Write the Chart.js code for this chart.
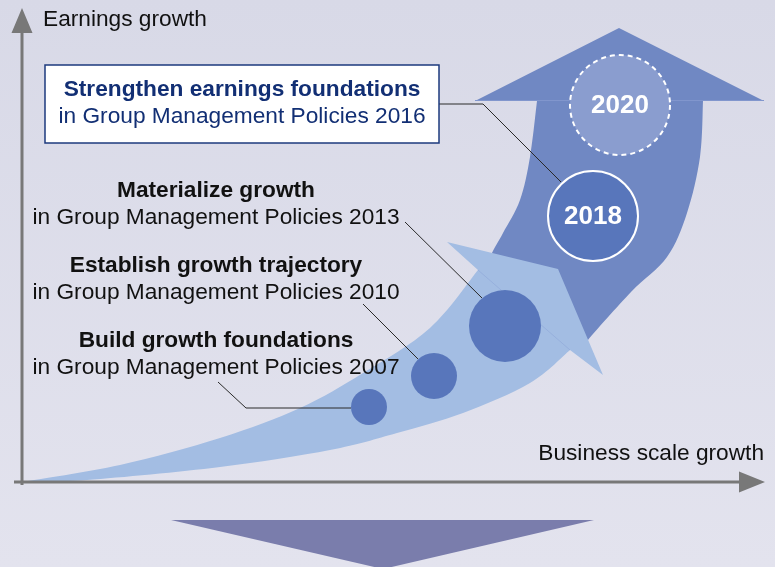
<!DOCTYPE html>
<html>
<head>
<meta charset="utf-8">
<script src="https://cdn.jsdelivr.net/npm/chart.js@4.4.1/dist/chart.umd.min.js"></script>
<style>
html, body { margin:0; padding:0; background:#dedfeb; }
#wrap { width:775px; height:567px; position:relative; }
</style>
</head>
<body>
<div id="wrap"><canvas id="grafico"></canvas></div>
<script>
// phases: x = business scale, y = earnings (origin at the axis corner)
var fases = ["2007", "2010", "2013", "2018", "2020"];
var faseX = [347, 412, 483, 571, 598];
var faseY = [75, 106, 156, 266, 377];
var faseR = [18, 23, 36, 45, 50];
var faseTexto = ["", "", "", "2018", "2020"];

// policy labels
var titulos = ["Build growth foundations", "Establish growth trajectory", "Materialize growth", "Strengthen earnings foundations"];
var subtitulos = ["in Group Management Policies 2007", "in Group Management Policies 2010", "in Group Management Policies 2013", "in Group Management Policies 2016"];

var eixoY = "Earnings growth";
var eixoX = "Business scale growth";

// geometry of the drawing (same units as the scales)
var tituloX = [194, 194, 194, 220];
var tituloY = [141, 216, 291, 392];
var guiaX = [[196, 224, 329], [341, 396], [383, 460], [417, 461, 539]];
var guiaY = [[100, 74, 74], [178, 123], [260, 184], [378, 378, 300]];
var caixa = [23, 417, 339, 417]; // x0, x1, y0, y1

var bandaTopoX = [0, 98, 198, 278, 341, 408, 456];
var bandaTopoY = [0, 17, 44, 74, 109, 154, 212];
var bandaBaseX = [0, 65, 198, 308, 375, 441, 508, 548];
var bandaBaseY = [0, 2, 15, 32, 49, 69, 99, 132];
var pontaX = [425, 536, 581];
var pontaY = [240, 213, 107];

var setaEsqX = [515, 508, 498, 481, 470, 464];
var setaEsqY = [381, 325, 282, 249, 229, 212];
var setaDirX = [681, 678, 665, 645, 609, 566, 562];
var setaDirY = [381, 325, 269, 225, 190, 142, 134];
var cabecaX = [453, 597, 742];
var cabecaY = [381, 454, 381];

var trianguloX = [149, 572, 361];
var trianguloY = [-38, -38, -87];

var fonte = '"Liberation Sans", Arial, sans-serif';

function px(chart, x, y) {
  return [chart.scales.x.getPixelForValue(x), chart.scales.y.getPixelForValue(y)];
}

function pontos(chart, xs, ys) {
  var r = [];
  for (var i = 0; i < xs.length; i++) r.push(px(chart, xs[i], ys[i]));
  return r;
}

// smooth curve through points (catmull-rom)
function curva(ctx, pts) {
  for (var i = 0; i < pts.length - 1; i++) {
    var p0 = pts[i - 1] || pts[i], p1 = pts[i], p2 = pts[i + 1], p3 = pts[i + 2] || pts[i + 1];
    ctx.bezierCurveTo(p1[0] + (p2[0] - p0[0]) / 6, p1[1] + (p2[1] - p0[1]) / 6,
                      p2[0] - (p3[0] - p1[0]) / 6, p2[1] - (p3[1] - p1[1]) / 6,
                      p2[0], p2[1]);
  }
}

var desenho = {
  id: 'desenho',
  beforeDraw: function(chart) {
    var ctx = chart.ctx;
    var g = ctx.createLinearGradient(0, 0, 0, chart.height);
    g.addColorStop(0, '#d8d9e7');
    g.addColorStop(1, '#e3e3ee');
    ctx.save();
    ctx.fillStyle = g;
    ctx.fillRect(0, 0, chart.width, chart.height);
    ctx.restore();
  },
  beforeDatasetsDraw: function(chart) {
    var ctx = chart.ctx, i, p;
    ctx.save();

    // bottom triangle
    p = pontos(chart, trianguloX, trianguloY);
    ctx.fillStyle = '#7a7dac';
    ctx.beginPath();
    ctx.moveTo(p[0][0], p[0][1]);
    ctx.lineTo(p[1][0], p[1][1]);
    ctx.lineTo(p[2][0], p[2][1]);
    ctx.closePath();
    ctx.fill();

    // dark arrow
    var cab = pontos(chart, cabecaX, cabecaY);
    var dir = pontos(chart, setaDirX, setaDirY);
    var esq = pontos(chart, setaEsqX, setaEsqY).reverse();
    ctx.fillStyle = '#7088c3';
    ctx.beginPath();
    ctx.moveTo(cab[0][0], cab[0][1]);
    ctx.lineTo(cab[1][0], cab[1][1]);
    ctx.lineTo(cab[2][0], cab[2][1]);
    ctx.lineTo(dir[0][0], dir[0][1]);
    curva(ctx, dir);
    ctx.lineTo(esq[0][0], esq[0][1]);
    curva(ctx, esq);
    ctx.closePath();
    ctx.fill();
    // faint seam at the head base
    ctx.strokeStyle = '#8196cd';
    ctx.lineWidth = 1;
    ctx.beginPath();
    ctx.moveTo(cab[0][0], cab[0][1] - 0.5);
    ctx.lineTo(cab[2][0], cab[2][1] - 0.5);
    ctx.stroke();

    // light band with arrowhead
    var topo = pontos(chart, bandaTopoX, bandaTopoY);
    var base = pontos(chart, bandaBaseX, bandaBaseY).reverse();
    var ponta = pontos(chart, pontaX, pontaY);
    ctx.fillStyle = '#a3bde3';
    ctx.beginPath();
    ctx.moveTo(topo[0][0], topo[0][1]);
    curva(ctx, topo);
    for (i = 0; i < ponta.length; i++) ctx.lineTo(ponta[i][0], ponta[i][1]);
    ctx.lineTo(base[0][0], base[0][1]);
    curva(ctx, base);
    ctx.closePath();
    ctx.fill();
    // faint seam at the light head base
    ctx.strokeStyle = '#93acdb';
    ctx.lineWidth = 0.8;
    ctx.beginPath();
    ctx.moveTo(topo[topo.length - 1][0], topo[topo.length - 1][1]);
    ctx.lineTo(base[0][0], base[0][1]);
    ctx.stroke();
    ctx.restore();
  },
  afterDatasetsDraw: function(chart) {
    var ctx = chart.ctx, i, j, p;
    ctx.save();

    // dashed ring on 2020
    var meta = chart.getDatasetMeta(0);
    var el = meta.data[4];
    ctx.strokeStyle = '#ffffff';
    ctx.lineWidth = 2;
    ctx.setLineDash([5, 4]);
    ctx.beginPath();
    ctx.arc(el.x, el.y, faseR[4], 0, Math.PI * 2);
    ctx.stroke();
    ctx.setLineDash([]);

    // year labels in circles
    ctx.fillStyle = '#ffffff';
    ctx.font = 'bold 26px ' + fonte;
    ctx.textAlign = 'center';
    ctx.textBaseline = 'middle';
    for (i = 0; i < faseTexto.length; i++) {
      if (faseTexto[i]) ctx.fillText(faseTexto[i], meta.data[i].x, meta.data[i].y + 1);
    }

    // leader lines
    ctx.strokeStyle = '#2a2a2a';
    ctx.lineWidth = 1;
    for (i = 0; i < guiaX.length; i++) {
      p = pontos(chart, guiaX[i], guiaY[i]);
      ctx.beginPath();
      ctx.moveTo(p[0][0], p[0][1]);
      for (j = 1; j < p.length; j++) ctx.lineTo(p[j][0], p[j][1]);
      ctx.stroke();
    }

    // 2016 box
    var a = px(chart, caixa[0], caixa[3]), b = px(chart, caixa[1], caixa[2]);
    ctx.fillStyle = '#ffffff';
    ctx.fillRect(a[0], a[1], b[0] - a[0], b[1] - a[1]);
    ctx.strokeStyle = '#1c3a7d';
    ctx.lineWidth = 1.5;
    ctx.strokeRect(a[0], a[1], b[0] - a[0], b[1] - a[1]);

    // policy labels
    for (i = 0; i < titulos.length; i++) {
      p = px(chart, tituloX[i], tituloY[i]);
      ctx.fillStyle = i == 3 ? '#122f74' : '#111111';
      ctx.font = 'bold 22.7px ' + fonte;
      ctx.fillText(titulos[i], p[0], p[1]);
      ctx.font = '22.7px ' + fonte;
      ctx.fillText(subtitulos[i], p[0], p[1] + 26.5);
    }

    // axes
    var o = px(chart, 0, 0);
    var yTopo = px(chart, 0, 474), yBase = px(chart, 0, 449), yIni = px(chart, 0, -3);
    var xFim = px(chart, 743, 0), xBase = px(chart, 717, 0), xIni = px(chart, -8, 0);
    ctx.strokeStyle = '#787878';
    ctx.fillStyle = '#787878';
    ctx.lineWidth = 3;
    ctx.beginPath();
    ctx.moveTo(o[0], yIni[1]);
    ctx.lineTo(o[0], yBase[1]);
    ctx.moveTo(xIni[0], o[1]);
    ctx.lineTo(xBase[0], o[1]);
    ctx.stroke();
    ctx.beginPath();
    ctx.moveTo(o[0], yTopo[1]);
    ctx.lineTo(o[0] - 10.5, yBase[1]);
    ctx.lineTo(o[0] + 10.5, yBase[1]);
    ctx.closePath();
    ctx.moveTo(xFim[0], o[1]);
    ctx.lineTo(xBase[0], o[1] - 10.5);
    ctx.lineTo(xBase[0], o[1] + 10.5);
    ctx.closePath();
    ctx.fill();

    ctx.fillStyle = '#111111';
    ctx.font = '22.7px ' + fonte;
    p = px(chart, 21, 462);
    ctx.textAlign = 'left';
    ctx.fillText(eixoY, p[0], p[1]);
    p = px(chart, 742, 28);
    ctx.textAlign = 'right';
    ctx.fillText(eixoX, p[0], p[1]);
    ctx.restore();
  }
};

var ctx = document.getElementById("grafico").getContext('2d');
var myChart = new Chart(ctx, {
  type: 'bubble',
  data: {
    labels: fases,
    datasets: [
      {
        data: fases.map(function(f, i) { return { x: faseX[i], y: faseY[i], r: faseR[i] }; }),
        backgroundColor: ["#5876bb", "#5876bb", "#5876bb", "#5876bb", "#8a9dcf"],
        borderColor: "#ffffff",
        borderWidth: [0, 0, 0, 2, 0],
        hoverRadius: 0,
        clip: false
      }
    ]
  },
  options: {
    responsive: true,
    maintainAspectRatio: false,
    animation: false,
    events: [],
    layout: { padding: 0, autoPadding: false },
    plugins: { legend: { display: false }, tooltip: { enabled: false } },
    scales: {
      x: { type: 'linear', min: -22, max: 753, display: false },
      y: { type: 'linear', min: -85, max: 482, display: false }
    }
  },
  plugins: [desenho]
});
</script>
</body>
</html>
